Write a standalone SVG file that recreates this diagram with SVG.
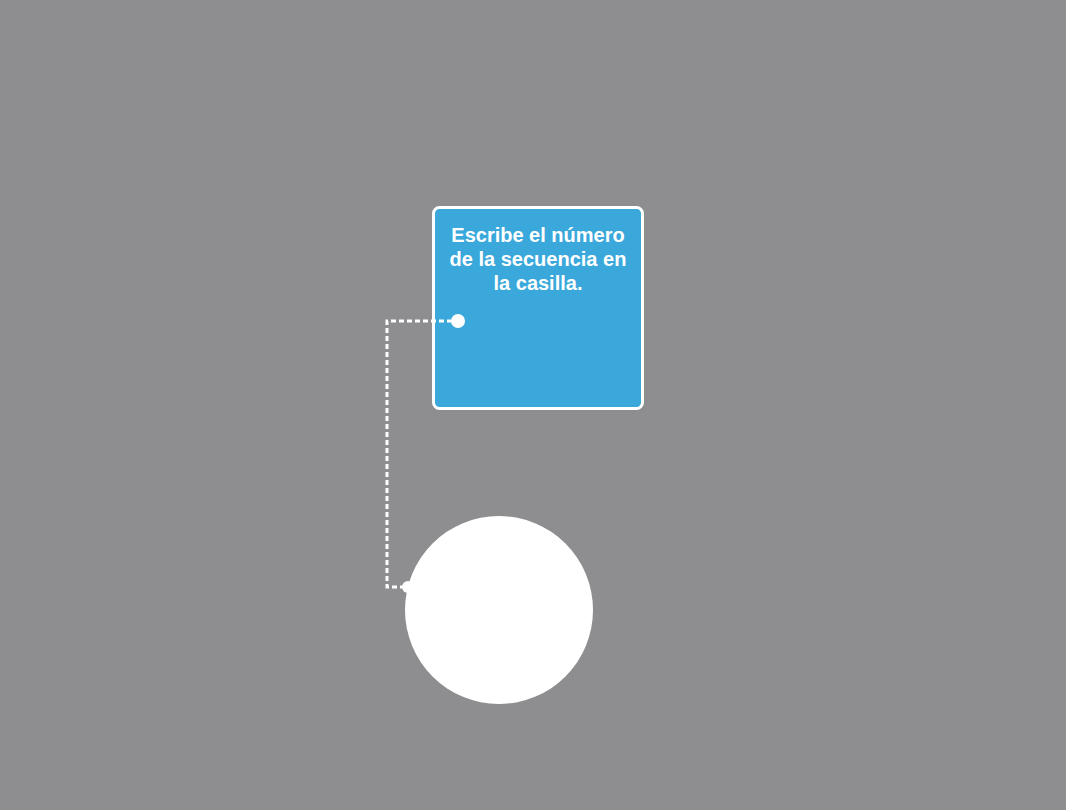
<svg xmlns="http://www.w3.org/2000/svg" width="1066" height="810" viewBox="0 0 1066 810">
<style>
.lbl{font-family:"Liberation Sans",Arial,sans-serif;font-weight:bold;font-size:20px;fill:#ffffff;text-anchor:middle}
.conn{fill:none;stroke:#ffffff;stroke-width:3;stroke-dasharray:5 3}
</style>
<rect width="1066" height="810" fill="#8e8e90"/>
<g id="node-box">
<rect x="433.5" y="207.5" width="209" height="201" rx="6" fill="#3aa8db" stroke="#ffffff" stroke-width="3"/>
<text class="lbl" x="538" y="242">Escribe el número</text>
<text class="lbl" x="538" y="266">de la secuencia en</text>
<text class="lbl" x="538" y="290">la casilla.</text>
</g>
<g id="node-circle">
<circle cx="499" cy="610" r="94" fill="#ffffff"/>
</g>
<g id="connectors">
<path class="conn" d="M452 321 H387 V587 H405"/>
<circle cx="458" cy="321" r="7" fill="#ffffff"/>
<circle cx="408" cy="587" r="6" fill="#ffffff"/>
</g>
</svg>
